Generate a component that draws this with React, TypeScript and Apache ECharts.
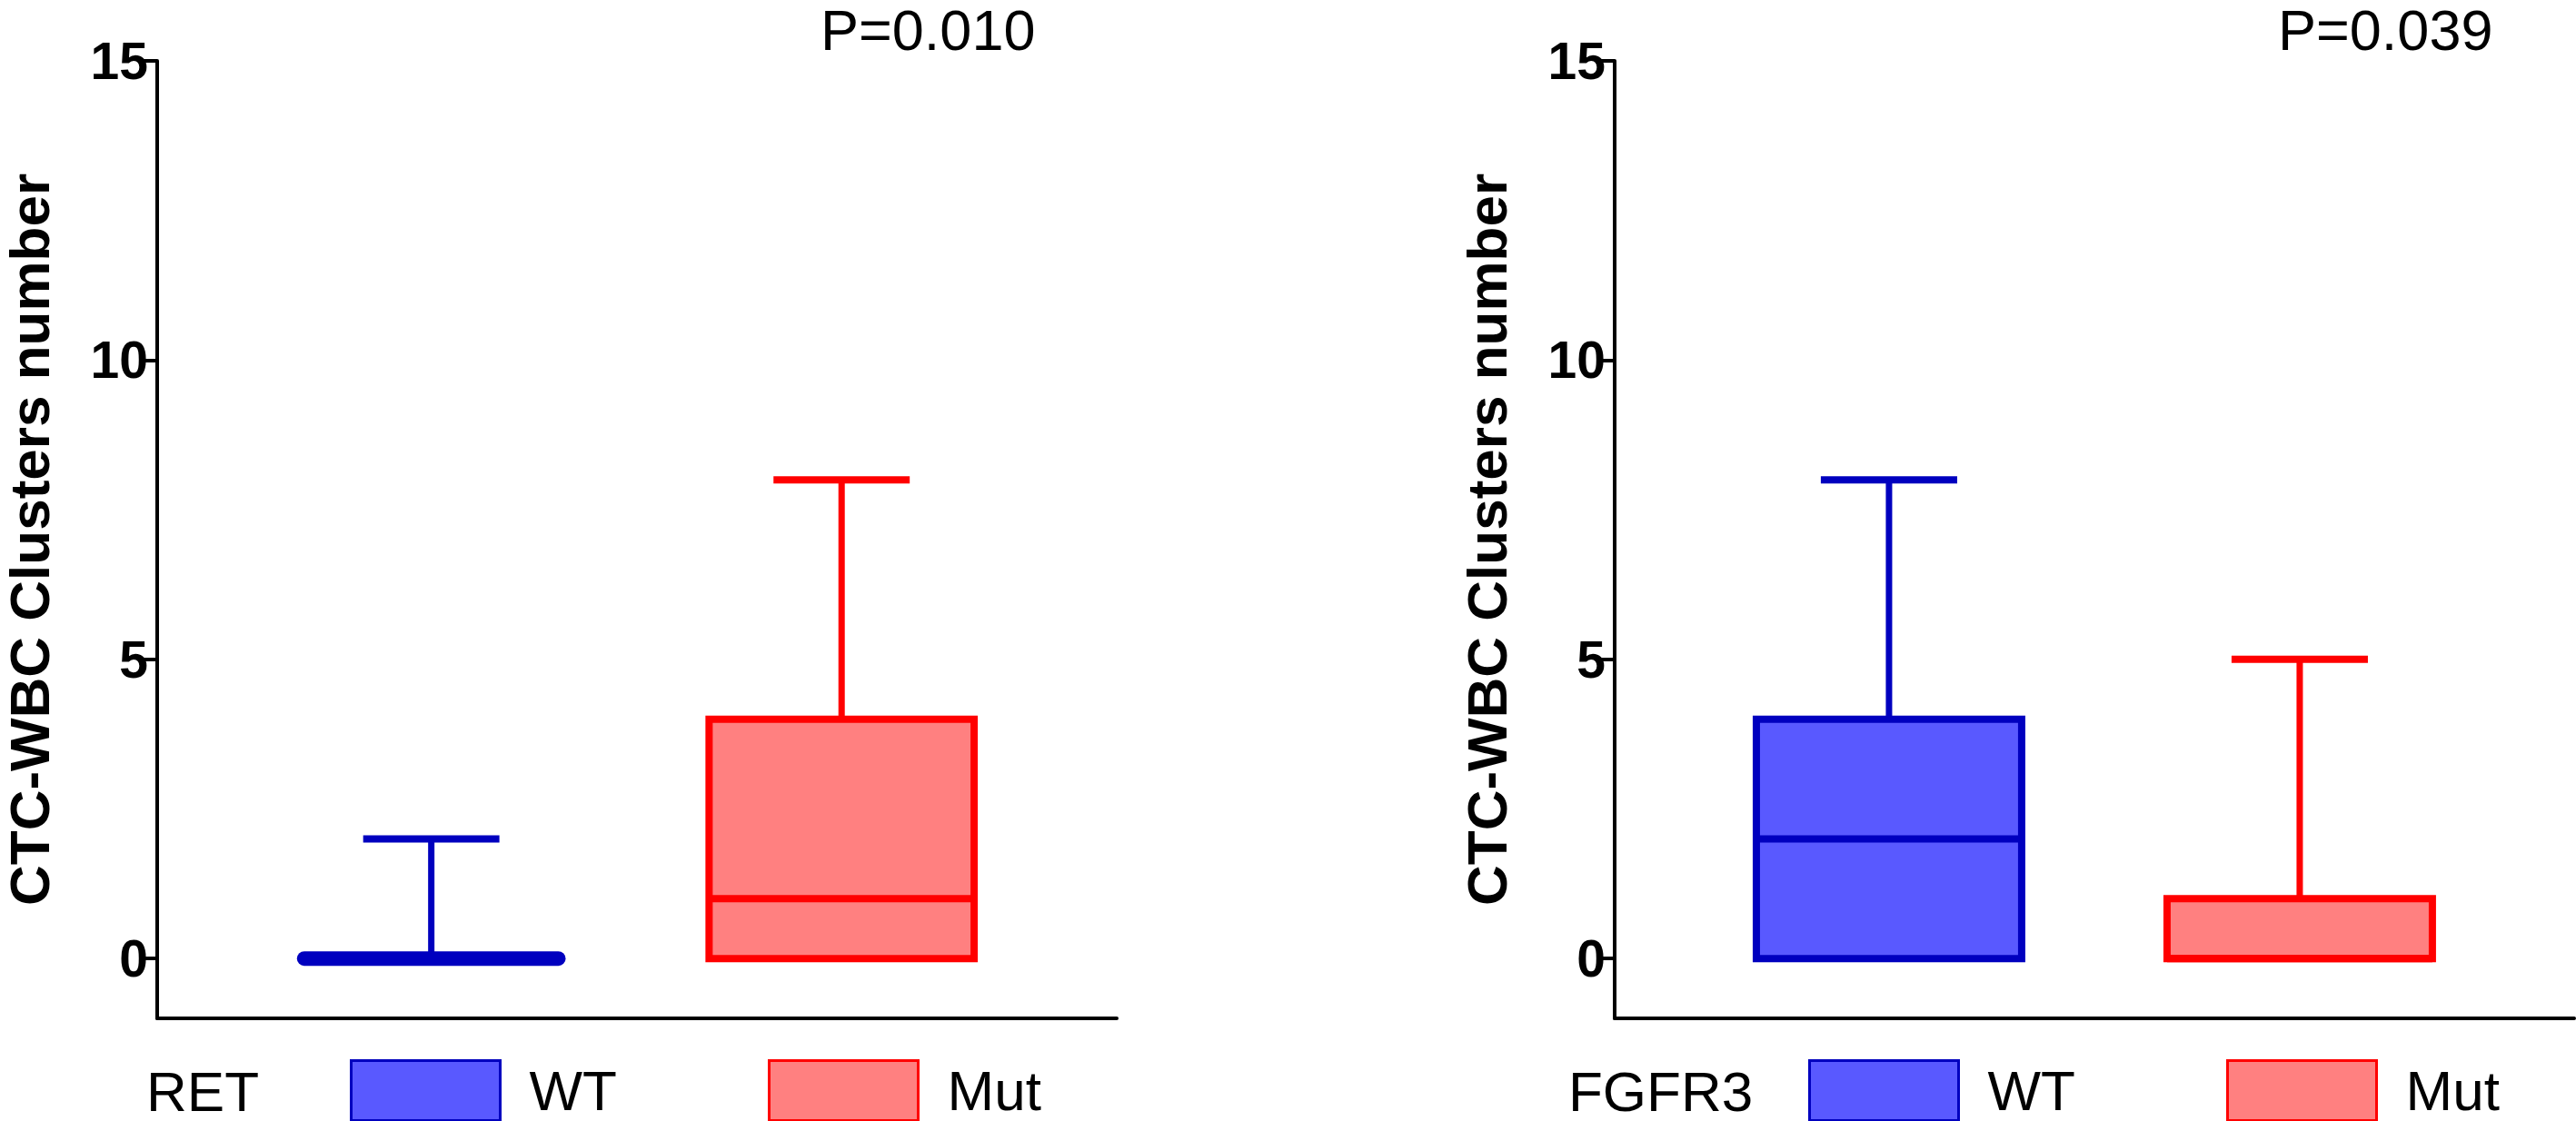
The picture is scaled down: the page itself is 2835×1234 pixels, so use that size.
import React, { useEffect, useRef } from "react";
import * as echarts from "echarts";

// five-number summaries: [min, Q1, median, Q3, max]
const GENES = ["RET", "FGFR3"];
const GROUPS = ["WT", "Mut"];
const RET_WT = [0, 0, 0, 0, 2];
const RET_MUT = [0, 0, 1, 4, 8];
const FGFR3_WT = [0, 0, 2, 4, 8];
const FGFR3_MUT = [0, 0, 0, 1, 5];
const P_VALUES = ["P=0.010", "P=0.039"];
const Y_TICKS = [0, 5, 10, 15];
const Y_MIN = -1;
const Y_MAX = 15;
const Y_NAME = "CTC-WBC Clusters number";

const COLORS = {
  WT: { fill: "#5959FF", stroke: "#0000BF" },
  Mut: { fill: "#FF8080", stroke: "#FF0000" },
};

const FONT = "'Liberation Sans', Arial, Helvetica, sans-serif";
const BOX_FRAC = 0.646;
const CAP_FRAC = 0.332;

function makeRenderItem(group: "WT" | "Mut") {
  const c = COLORS[group];
  return (params: any, api: any) => {
    const x = api.value(0);
    const lo = api.value(1);
    const q1 = api.value(2);
    const med = api.value(3);
    const q3 = api.value(4);
    const hi = api.value(5);
    const unit = api.size([1, 0])[0];
    const bw = unit * BOX_FRAC;
    const cw = unit * CAP_FRAC;
    const pLo = api.coord([x, lo]);
    const pQ1 = api.coord([x, q1]);
    const pMed = api.coord([x, med]);
    const pQ3 = api.coord([x, q3]);
    const pHi = api.coord([x, hi]);
    const cx = pMed[0];
    const children: any[] = [];
    if (hi > q3) {
      children.push({
        type: "line",
        shape: { x1: cx, y1: pQ3[1], x2: cx, y2: pHi[1] },
        style: { stroke: c.stroke, lineWidth: 7 },
      });
      children.push({
        type: "line",
        shape: { x1: cx - cw / 2, y1: pHi[1], x2: cx + cw / 2, y2: pHi[1] },
        style: { stroke: c.stroke, lineWidth: 8 },
      });
    }
    if (lo < q1) {
      children.push({
        type: "line",
        shape: { x1: cx, y1: pQ1[1], x2: cx, y2: pLo[1] },
        style: { stroke: c.stroke, lineWidth: 7 },
      });
      children.push({
        type: "line",
        shape: { x1: cx - cw / 2, y1: pLo[1], x2: cx + cw / 2, y2: pLo[1] },
        style: { stroke: c.stroke, lineWidth: 8 },
      });
    }
    if (q3 > q1) {
      children.push({
        type: "rect",
        shape: { x: cx - bw / 2, y: pQ3[1], width: bw, height: pQ1[1] - pQ3[1] },
        style: { fill: c.fill, stroke: c.stroke, lineWidth: 8 },
      });
      children.push({
        type: "line",
        shape: { x1: cx - bw / 2, y1: pMed[1], x2: cx + bw / 2, y2: pMed[1] },
        style: { stroke: c.stroke, lineWidth: 8 },
      });
    } else {
      children.push({
        type: "line",
        shape: { x1: cx - bw / 2 + 6, y1: pMed[1], x2: cx + bw / 2 - 6, y2: pMed[1] },
        style: { stroke: c.stroke, lineWidth: 16, lineCap: "round" },
      });
    }
    return { type: "group", children };
  };
}

const PANEL_LEFT = [172, 1777];
const PANEL_WIDTH = [1057, 1056];

export default function App() {
  const ref = useRef<HTMLDivElement>(null);
  useEffect(() => {
    if (!ref.current) return;
    const chart = echarts.init(ref.current, null, { renderer: "svg" });
    const data = [
      [RET_WT, RET_MUT],
      [FGFR3_WT, FGFR3_MUT],
    ];
    const grids: any[] = [];
    const xAxes: any[] = [];
    const yAxes: any[] = [];
    const series: any[] = [];
    const titles: any[] = [];
    const legends: any[] = [];
    PANEL_LEFT.forEach((left, i) => {
      grids.push({ left, top: 67, width: PANEL_WIDTH[i], height: 1054, containLabel: false });
      xAxes.push({
        type: "value",
        gridIndex: i,
        min: 0.332,
        max: 0.332 + PANEL_WIDTH[i] / 452,
        axisLine: { show: true, onZero: false, lineStyle: { color: "#000", width: 4 } },
        axisTick: { show: false },
        axisLabel: { show: false },
        splitLine: { show: false },
      });
      yAxes.push({
        type: "value",
        gridIndex: i,
        min: Y_MIN,
        max: Y_MAX,
        name: Y_NAME,
        nameLocation: "middle",
        nameGap: 116,
        nameTextStyle: {
          fontSize: 62,
          lineHeight: 50,
          fontWeight: "bold",
          color: "#000",
          fontFamily: FONT,
        },
        axisLine: { show: true, onZero: false, lineStyle: { color: "#000", width: 4 } },
        axisTick: { show: true, length: 20, customValues: Y_TICKS, lineStyle: { color: "#000", width: 4 } },
        axisLabel: {
          show: true,
          customValues: Y_TICKS,
          margin: 10,
          fontSize: 57,
          fontWeight: "bold",
          color: "#000",
          fontFamily: FONT,
        },
        splitLine: { show: false },
      });
      GROUPS.forEach((g, j) => {
        const s = data[i][j];
        series.push({
          type: "custom",
          name: g,
          xAxisIndex: i,
          yAxisIndex: i,
          clip: false,
          itemStyle: { color: COLORS[g as "WT" | "Mut"].fill },
          renderItem: makeRenderItem(g as "WT" | "Mut"),
          encode: { x: 0, y: [1, 2, 3, 4, 5] },
          data: [[j + 1, ...s]],
        });
        legends.push({
          left: [385, 845][j] + (left - 172),
          top: 1166,
          padding: 0,
          itemWidth: 164,
          itemHeight: 66,
          selectedMode: false,
          textStyle: { fontSize: 62, color: "#000", fontFamily: FONT, padding: [0, 0, 0, 27] },
          data: [
            {
              name: g,
              icon: "rect",
              itemStyle: {
                color: COLORS[g as "WT" | "Mut"].fill,
                borderColor: COLORS[g as "WT" | "Mut"].stroke,
                borderWidth: 3,
              },
            },
          ],
        });
      });
      titles.push({
        text: GENES[i],
        left: [161, 1726][i],
        top: 1170,
        padding: 0,
        textStyle: { fontSize: 62, fontWeight: "normal", color: "#000", fontFamily: FONT },
      });
      titles.push({
        text: P_VALUES[i],
        left: [903, 2507][i],
        top: 8,
        padding: 0,
        textStyle: {
          fontSize: 63,
          lineHeight: 50,
          fontWeight: "normal",
          color: "#000",
          fontFamily: FONT,
        },
      });
    });
    chart.setOption({
      animation: false,
      backgroundColor: "#fff",
      title: titles,
      legend: legends,
      grid: grids,
      xAxis: xAxes,
      yAxis: yAxes,
      series,
    });
    return () => chart.dispose();
  }, []);
  return (
    <div
      ref={ref}
      style={{ position: "absolute", left: 0, top: 0, width: 2835, height: 1234 }}
    />
  );
}
